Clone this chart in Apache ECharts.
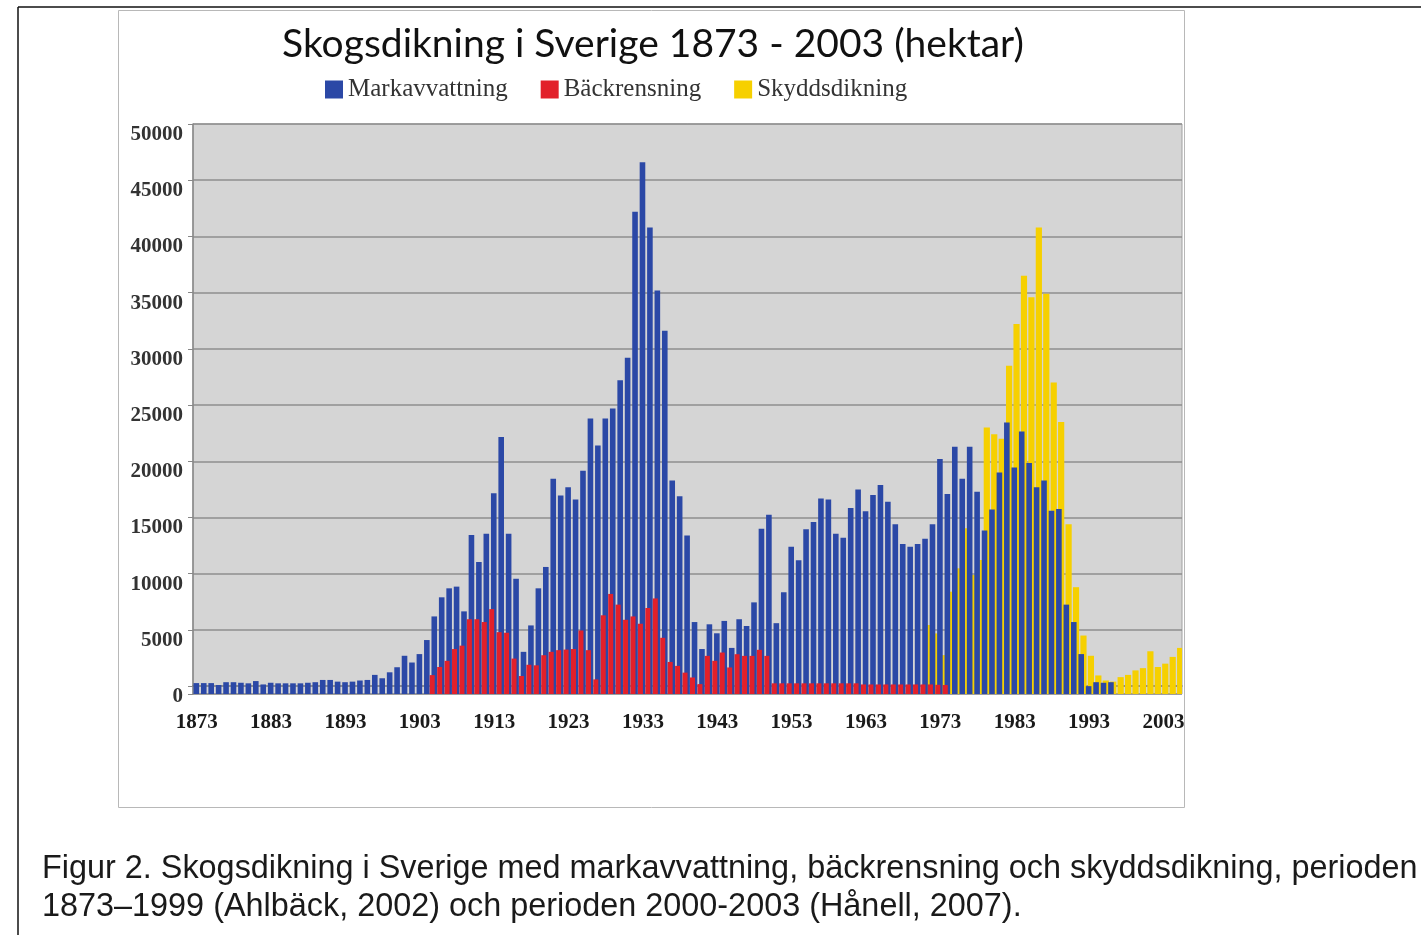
<!DOCTYPE html>
<html><head><meta charset="utf-8">
<script src="https://cdn.jsdelivr.net/npm/echarts@6/dist/echarts.min.js"></script>
<style>html,body{margin:0;padding:0;background:#fff}#c{width:1421px;height:935px}</style>
</head><body><div id="c"></div>
<script>
const years = [
'1873','1874','1875','1876','1877','1878','1879','1880','1881','1882',
'1883','1884','1885','1886','1887','1888','1889','1890','1891','1892',
'1893','1894','1895','1896','1897','1898','1899','1900','1901','1902',
'1903','1904','1905','1906','1907','1908','1909','1910','1911','1912',
'1913','1914','1915','1916','1917','1918','1919','1920','1921','1922',
'1923','1924','1925','1926','1927','1928','1929','1930','1931','1932',
'1933','1934','1935','1936','1937','1938','1939','1940','1941','1942',
'1943','1944','1945','1946','1947','1948','1949','1950','1951','1952',
'1953','1954','1955','1956','1957','1958','1959','1960','1961','1962',
'1963','1964','1965','1966','1967','1968','1969','1970','1971','1972',
'1973','1974','1975','1976','1977','1978','1979','1980','1981','1982',
'1983','1984','1985','1986','1987','1988','1989','1990','1991','1992',
'1993','1994','1995','1996','1997','1998','1999','2000','2001','2002',
'2003','2004','2005'];

// Markavvattning, from 1873
const markavvattningStart = 1873;
const markavvattning = [
270,270,270,100,350,350,300,250,450,150,
300,250,250,250,250,300,350,550,550,400,
350,400,500,550,1000,700,1230,1680,2700,2100,
2850,4100,6200,7900,8700,8850,6650,13450,11050,13550,
17150,22150,13550,9550,3050,5400,8700,10600,18450,16950,
17700,16600,19150,23800,21400,23800,24700,27200,29200,42200,
46600,40800,35200,31600,18300,16900,13400,5700,3300,5500,
4700,5800,3400,5950,5350,7450,14000,15250,5600,8350,
12400,11200,13950,14600,16700,16600,13550,13200,15850,17500,
15550,17000,17900,16400,14400,12650,12400,12650,13100,14400,
20200,17100,21300,18450,21300,17300,13850,15700,19000,23450,
19450,22650,19850,17700,18300,15600,15750,7250,5700,2850,
0,350,300,350];

// Bäckrensning, from 1905
const backrensningStart = 1905;
const backrensning = [
980,1700,2250,3300,3600,5950,5950,5700,6850,4800,
4750,2450,900,1900,1850,2750,3050,3200,3250,3300,
4950,3200,600,6300,8200,7250,5900,6200,5550,6950,
7800,4300,2150,1800,1200,770,180,2690,2250,2990,
1660,2840,2690,2690,3230,2690,250,250,250,250,
250,250,250,250,250,250,250,250,150,150,
150,150,150,150,150,150,150,150,120,100];

// Skyddsdikning, from 1971
const skyddsdikningStart = 1971;
const skyddsdikning = [
5440,4690,2760,8400,10480,14050,9890,11230,23000,22400,
22000,28500,32200,36500,34600,40800,34900,27000,23500,14400,
8800,4500,2700,950,500,400,800,1000,1400,1600,
3100,1700,2000,2600,3400];

function align(start, vals) {
  return years.map(function (y) {
    const i = Number(y) - start;
    return (i >= 0 && i < vals.length) ? vals[i] : null;
  });
}

const gridColor = '#8e8e8e';
const splitColors = [gridColor, 'rgba(0,0,0,0)', gridColor, gridColor, gridColor, gridColor,
  gridColor, gridColor, gridColor, gridColor, gridColor, gridColor];

const chart = echarts.init(document.getElementById('c'), null, {renderer: 'canvas'});
chart.setOption({
  animation: false,
  backgroundColor: '#ffffff',
  graphic: [
    {type: 'line', z: 100, shape: {x1: 18, y1: 7, x2: 1421, y2: 7}, style: {stroke: '#111', lineWidth: 1.5}},
    {type: 'line', z: 100, shape: {x1: 18, y1: 7, x2: 18, y2: 935}, style: {stroke: '#111', lineWidth: 1.5}},
    {type: 'rect', z: -10, shape: {x: 118.5, y: 10.5, width: 1066, height: 797}, style: {fill: '#ffffff', stroke: '#b8b8b8', lineWidth: 1}},
    {type: 'text', z: 100, x: 653, y: 44, style: {text: 'Skogsdikning i Sverige 1873 - 2003 (hektar)', font: '39px Lato', fill: '#111', align: 'center', verticalAlign: 'middle'}},
    {type: 'text', z: 100, x: 42, y: 869, style: {text: 'Figur 2. Skogsdikning i Sverige med markavvattning, bäckrensning och skyddsdikning, perioden', font: '32.4px "Liberation Sans"', fill: '#1a1a1a', align: 'left', verticalAlign: 'middle'}},
    {type: 'text', z: 100, x: 42, y: 907, style: {text: '1873–1999 (Ahlbäck, 2002) och perioden 2000-2003 (Hånell, 2007).', font: '32.4px "Liberation Sans"', fill: '#1a1a1a', align: 'left', verticalAlign: 'middle'}}
  ],
  legend: {
    data: ['Markavvattning', 'Bäckrensning', 'Skyddsdikning'],
    left: 320, top: 72,
    icon: 'rect', itemWidth: 18, itemHeight: 18, itemGap: 33,
    textStyle: {fontFamily: 'Liberation Serif', fontSize: 25, color: '#333'}
  },
  grid: {left: 193, right: 239, top: 124, bottom: 241, show: true,
    backgroundColor: '#d5d5d5', borderColor: '#a0a0a0', borderWidth: 1},
  xAxis: {
    type: 'category', data: years,
    axisLine: {lineStyle: {color: '#777', width: 1.5}},
    axisTick: {interval: 4, length: 5, lineStyle: {color: '#777'}},
    axisLabel: {interval: 9, margin: 18, fontFamily: 'Liberation Serif', fontWeight: 'bold', fontSize: 21, color: '#1a1a1a'},
    splitLine: {show: false}
  },
  yAxis: {
    type: 'value', min: -700, max: 50000, splitNumber: 10, startValue: -700,
    axisLine: {show: true, lineStyle: {color: '#888', width: 1.5}},
    axisTick: {show: true, length: 5, lineStyle: {color: '#888'}},
    axisLabel: {
      formatter: function (v) { return v < 0 ? '{z|0}' : (v === 0 ? '' : '{a|' + v + '}'); },
      margin: 10, fontFamily: 'Liberation Serif', fontWeight: 'bold', fontSize: 21, color: '#333',
      rich: {
        a: {fontFamily: 'Liberation Serif', fontWeight: 'bold', fontSize: 21, color: '#333', padding: [21, 0, 0, 0]},
        z: {fontFamily: 'Liberation Serif', fontWeight: 'bold', fontSize: 21, color: '#333', padding: [6, 0, 0, 0]}
      }
    },
    splitLine: {lineStyle: {color: splitColors, width: 1.5}}
  },
  series: [
    {name: 'Bäckrensning', type: 'bar', data: align(backrensningStart, backrensning),
      barWidth: 5, barGap: '-65%', z: 4, itemStyle: {color: '#e2202a'}},
    {name: 'Markavvattning', type: 'bar', data: align(markavvattningStart, markavvattning),
      barWidth: 5.6, barGap: '-65%', z: 3, itemStyle: {color: '#2b48a6'}},
    {name: 'Skyddsdikning', type: 'bar', data: align(skyddsdikningStart, skyddsdikning),
      barWidth: 6.2, barGap: '-65%', z: 2, itemStyle: {color: '#f6d000'}}
  ]
});
</script></body></html>
